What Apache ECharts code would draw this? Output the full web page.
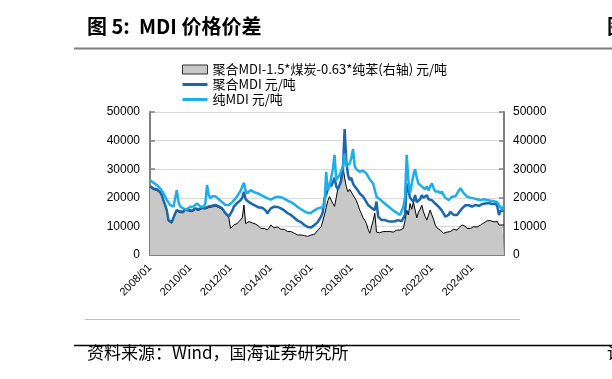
<!DOCTYPE html>
<html><head><meta charset="utf-8">
<script src="https://cdn.jsdelivr.net/npm/echarts@6/dist/echarts.min.js"></script>
<style>html,body{margin:0;padding:0;background:#fff}#c{width:612px;height:379px}</style>
</head><body><div id="c"></div>
<script>
// months 2008/01 .. 2025/08
var startYear = 2008, monthCount = 212;
var categories = [];
for (var i = 0; i < monthCount; i++) {
  var y = startYear + Math.floor(i / 12), m = i % 12 + 1;
  categories.push(y + '/' + (m < 10 ? '0' + m : m));
}
var seriesNames = ['聚合MDI-1.5*煤炭-0.63*纯苯(右轴) 元/吨', '聚合MDI 元/吨', '纯MDI 元/吨'];
var yTicks = [0, 10000, 20000, 30000, 40000, 50000];

var spread = [
23700,23300,22900,22700,22600,22200,21700,20600,18800,17100,15300,11800,
11300,11100,10900,14200,15300,15100,14800,14600,14800,15600,15900,15400,
14800,15100,15600,15900,15900,15600,15900,16200,15900,16100,16500,16600,
16500,16800,17100,17100,16800,16600,16200,15900,15600,14200,13600,13000,
9300,9900,10500,10200,11000,11700,12000,13000,17500,11000,11500,11700,
11700,11200,11000,10800,10500,10000,9300,9000,9300,9500,8800,9500,
10500,10000,9500,9300,9800,9300,9000,9500,9000,8500,8200,8500,
8200,7800,7600,7200,7000,7600,7000,6400,6800,7200,6500,6600,
7000,7500,7200,7600,8700,8200,9900,10500,14000,16500,19000,20400,
19200,18000,17000,20000,23300,24500,28000,30900,27000,23900,22100,23000,
22500,21000,20400,19000,17500,15700,14500,13000,12200,11000,9000,7600,
7800,12000,14600,8000,7600,7800,8000,8200,8000,8200,8000,8200,
8200,8000,8500,8700,8500,8700,9300,9300,12000,15700,14000,18000,
16000,18600,19000,13000,15000,16000,17400,15100,13500,12200,14000,15700,
14000,12500,10500,9500,9300,8700,8200,7600,7800,8000,7600,8200,
8500,9000,9300,8700,9500,10000,10500,10500,10000,9300,9500,9300,
9500,9900,10200,9800,10000,10500,11000,11200,11500,12000,12200,12000,
11800,11600,12000,11700,10500,10000,10500,10500
];
var polyMDI = [
24100,23700,23300,23100,23000,22600,22100,21000,19200,17500,15700,12200,
11700,11500,11300,14600,15700,15500,15200,15000,15200,16000,16300,15800,
15200,15500,16000,16300,16300,16000,16300,16600,16300,16500,16900,17000,
16900,17200,17500,17500,17200,17000,16600,16300,16000,14600,14000,13400,
13000,15500,16900,17500,18200,18700,19200,20000,22100,19500,19200,18500,
18000,17800,17500,17200,16900,16600,16300,16500,16300,15500,14600,15500,
16300,16600,16900,16900,16800,16600,16300,16000,15600,15200,14600,14200,
14000,13500,13000,12500,12000,11700,11500,11000,10500,10200,9800,9300,
9600,10000,10500,11000,11500,12500,13400,15000,19800,21000,23000,25000,
24000,25500,27000,24000,23000,24500,26000,30000,44000,33000,28000,26200,
27000,25000,24000,23300,22500,21500,21000,20400,19500,18500,17500,16900,
16500,16000,15700,18700,13400,12800,12200,12000,12200,12000,11800,12000,
11700,11500,11800,12000,12200,11600,11800,11600,14000,25000,22700,20000,
19500,18600,21000,18500,18600,19500,20900,20000,20500,20900,19500,19800,
19200,19200,18000,17500,16900,16500,15500,14500,13400,13400,14000,15100,
14500,14000,14500,14000,14800,15500,16300,16800,17400,17200,17400,17000,
16900,17200,17500,17500,17200,17500,17800,18000,18000,18000,18200,18000,
17800,17900,18000,17000,14000,15500,15100,15500
];
var pureMDI = [
26200,25800,25300,25000,24500,24000,23300,22500,21600,20500,19200,18300,
17500,17200,16900,16500,22700,18500,17000,16500,16200,15700,16000,16500,
16900,16500,17000,17500,18000,17500,17000,17200,16900,18000,24500,21000,
19800,20500,21000,20500,20000,19500,19200,18500,18000,17500,16900,17500,
18000,18500,19000,19800,20400,21500,22500,23000,25300,22500,21600,22000,
22700,22300,22000,21800,21600,21200,21000,20600,20400,20000,19800,19500,
19400,19800,20000,20300,20400,20400,20200,20000,19700,19400,19000,18700,
18500,18200,17800,17300,16800,16300,16000,15600,15300,15000,14700,14600,
14800,15200,15600,16000,16300,16300,16600,16900,17000,29100,22700,24000,
27000,30000,35000,26200,26500,28000,28000,31000,35500,31000,31000,32000,
34000,37000,31000,30000,29500,29100,29000,29500,29700,28500,27400,26500,
25700,25000,24500,20400,19800,19500,19200,18500,18000,17500,16900,16500,
16000,15500,15200,14800,14500,14000,14300,16900,20000,35000,26200,21600,
22000,28000,30000,27000,25000,24500,24000,23900,23000,24000,22500,24000,
25000,23500,22200,22500,22200,21500,22200,21000,20000,19500,19200,19800,
20400,21000,20500,21500,22500,23300,22500,21600,21000,20400,20500,20000,
19800,19800,20400,19500,19800,19200,19200,19500,19000,19200,19800,19000,
19200,18800,19200,18500,17500,17000,15700,17400
];

var chart = echarts.init(document.getElementById('c'), null, {renderer: 'canvas'});
var axisLineStyle = {color: '#808080', width: 2};
var labelFont = {color: '#000', fontSize: 12, fontFamily: 'Liberation Sans, Arial, sans-serif'};
var lineIcon = 'path://M0,0H25V3H0Z';
chart.setOption({
  animation: false,
  backgroundColor: '#fff',
  grid: {left: 150, right: 108, top: 112, bottom: 124, containLabel: false},
  legend: {
    orient: 'vertical', left: 182, top: 63, padding: 0, itemWidth: 25, itemHeight: 9, itemGap: 2,
    textStyle: {fontSize: 13, color: '#000', fontFamily: 'Noto Sans CJK SC'},
    data: [
      {name: seriesNames[0], icon: 'rect', itemStyle: {color: '#C8C8C8', borderColor: '#333', borderWidth: 1}},
      {name: seriesNames[1], icon: lineIcon, itemStyle: {color: '#1A67AC', borderWidth: 0}},
      {name: seriesNames[2], icon: lineIcon, itemStyle: {color: '#1DAEEA', borderWidth: 0}}
    ]
  },
  xAxis: {
    type: 'category', data: categories, boundaryGap: false,
    axisLine: {lineStyle: axisLineStyle},
    axisTick: {inside: true, interval: 23, length: 5, lineStyle: {color: '#808080', width: 1.5}},
    axisLabel: {interval: 23, rotate: 45, margin: 11, color: '#000', fontSize: 11, fontFamily: 'Liberation Sans, Arial, sans-serif'},
    splitLine: {show: false}
  },
  yAxis: [
    {type: 'value', min: 0, max: 50000, interval: 10000, position: 'left',
     axisLine: {show: true, lineStyle: axisLineStyle},
     axisTick: {show: true, inside: true, length: 5, lineStyle: {color: '#808080', width: 1.5}},
     axisLabel: Object.assign({margin: 10, formatter: function (v) { return String(v); }}, labelFont),
     splitLine: {show: true, lineStyle: {color: '#D9D9D9', width: 1}}},
    {type: 'value', min: 0, max: 50000, interval: 10000, position: 'right',
     axisLine: {show: true, lineStyle: axisLineStyle},
     axisTick: {show: true, inside: true, length: 5, lineStyle: {color: '#808080', width: 1.5}},
     axisLabel: Object.assign({margin: 9, formatter: function (v) { return String(v); }}, labelFont),
     splitLine: {show: false}}
  ],
  series: [
    {name: seriesNames[0], type: 'line', yAxisIndex: 1, data: spread, symbol: 'none',
     lineStyle: {color: '#000', width: 1}, itemStyle: {color: '#C8C8C8'},
     areaStyle: {color: '#C8C8C8', opacity: 1}},
    {name: seriesNames[1], type: 'line', yAxisIndex: 0, data: polyMDI, symbol: 'none',
     lineStyle: {color: '#1A67AC', width: 2.5}, itemStyle: {color: '#1A67AC'}},
    {name: seriesNames[2], type: 'line', yAxisIndex: 0, data: pureMDI, symbol: 'none',
     lineStyle: {color: '#1DAEEA', width: 2.5}, itemStyle: {color: '#1DAEEA'}}
  ],
  graphic: [
    {type: 'text', left: 87, top: 16, style: {text: '图 5:  MDI 价格价差', fontSize: 20, fontWeight: 'bold', fill: '#000', fontFamily: 'Noto Sans CJK SC'}},
    {type: 'text', left: 607, top: 16, style: {text: '图', fontSize: 20, fontWeight: 'bold', fill: '#000', fontFamily: 'Noto Sans CJK SC'}},
    {type: 'line', shape: {x1: 74, y1: 48.5, x2: 612, y2: 48.5}, style: {stroke: '#7F7F7F', lineWidth: 2}},
    {type: 'line', shape: {x1: 85, y1: 319.5, x2: 520, y2: 319.5}, style: {stroke: '#BFBFBF', lineWidth: 1}},
    {type: 'line', shape: {x1: 74, y1: 345.5, x2: 612, y2: 345.5}, style: {stroke: '#000', lineWidth: 1.5}},
    {type: 'text', left: 87, top: 344, style: {text: '资料来源：Wind，国海证券研究所', fontSize: 17, fill: '#000', fontFamily: 'Noto Sans CJK SC'}},
    {type: 'text', left: 607, top: 344, style: {text: '请', fontSize: 17, fill: '#000', fontFamily: 'Noto Sans CJK SC'}}
  ]
});
</script></body></html>
